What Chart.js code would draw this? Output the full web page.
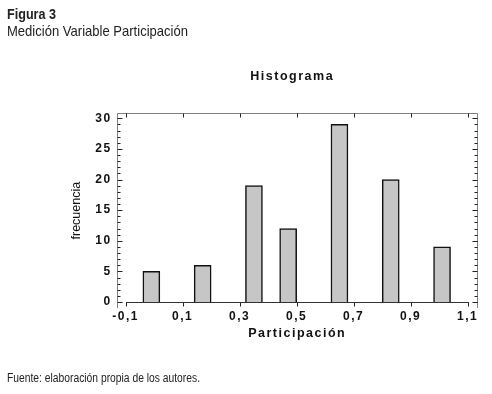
<!DOCTYPE html>
<html>
<head>
<meta charset="utf-8">
<script src="https://cdn.jsdelivr.net/npm/chart.js@4/dist/chart.umd.min.js"></script>
<style>
  html, body { margin: 0; padding: 0; background: #fff; }
  #wrap { position: relative; width: 492px; height: 394px; overflow: hidden; }
  canvas { position: absolute; left: 0; top: 0; }
  .txt { position: absolute; font-family: "Liberation Sans", Arial, sans-serif; color: #222; white-space: nowrap; transform-origin: 0 0; line-height: 1; }
</style>
</head>
<body>
<div id="wrap">
  <canvas id="c" width="492" height="394"></canvas>
  <div class="txt" data-w="49" style="left:7px; top:6px; font-size:15px; font-weight:bold;">Figura 3</div>
  <div class="txt" data-w="181" style="left:7px; top:24px; font-size:14.5px;">Medición Variable Participación</div>
  <div class="txt" data-w="193" style="left:7px; top:372px; font-size:12px;">Fuente: elaboración propia de los autores.</div>
</div>
<script>
// ---- data ----
const binCenters = [-0.01, 0.17, 0.35, 0.47, 0.65, 0.83, 1.01];
const frequencies = [5, 6, 19, 12, 29, 20, 9];
const xTickValues = [-0.1, 0.1, 0.3, 0.5, 0.7, 0.9, 1.1];
const xTickLabels = ['-0,1', '0,1', '0,3', '0,5', '0,7', '0,9', '1,1'];
const yTickValues = [0, 5, 10, 15, 20, 25, 30];
const yTickLabels = ['0', '5', '10', '15', '20', '25', '30'];

const X_MIN = -0.1316, X_MAX = 1.1351;
const Y_MIN = -0.98, Y_MAX = 30.82;

// condensed look for the header / footer texts
document.querySelectorAll('.txt[data-w]').forEach(el => {
  const w = el.getBoundingClientRect().width;
  el.style.transform = 'scaleX(' + (parseFloat(el.dataset.w) / w) + ')';
});

const spacingPlugin = {
  id: 'spacing',
  beforeUpdate(chart) { chart.ctx.letterSpacing = '1.5px'; },
  beforeDraw(chart) { chart.ctx.letterSpacing = '1.5px'; }
};

const framePlugin = {
  id: 'frame',
  afterDatasetsDraw(chart) {
    const { ctx, chartArea: a, scales: { x, y } } = chart;
    ctx.save();
    ctx.letterSpacing = '0px';
    ctx.strokeStyle = '#808080';
    ctx.lineWidth = 1;
    ctx.beginPath();
    const L = Math.round(a.left) + 0.5, T = Math.round(a.top) + 0.5, R = Math.round(a.right) - 0.5, B = Math.round(a.bottom);
    ctx.moveTo(L, B); ctx.lineTo(L, T); ctx.lineTo(R, T); ctx.lineTo(R, B);
    ctx.stroke();
    ctx.strokeStyle = '#222';
    ctx.beginPath();
    for (let v = 0; v <= 30; v++) {
      const py = Math.round(y.getPixelForValue(v)) + 0.5;
      const len = (v % 5 === 0) ? 5 : 3;
      ctx.moveTo(L, py); ctx.lineTo(L + len, py);
      ctx.moveTo(R, py); ctx.lineTo(R - len, py);
    }
    const y0 = Math.round(y.getPixelForValue(0)) + 0.5;
    xTickValues.forEach(v => {
      const px = Math.round(x.getPixelForValue(v)) + 0.5;
      ctx.moveTo(px, T); ctx.lineTo(px, T + 4);
      ctx.moveTo(px, y0); ctx.lineTo(px, y0 + 4);
    });
    ctx.stroke();
    ctx.strokeStyle = '#333';
    ctx.beginPath();
    ctx.moveTo(Math.round(x.getPixelForValue(-0.1)), y0);
    ctx.lineTo(Math.round(x.getPixelForValue(1.1)) + 1, y0);
    ctx.stroke();
    ctx.restore();
  }
};

const boldFont = '"Liberation Sans", Arial, sans-serif';

const chart = new Chart(document.getElementById('c'), {
  type: 'bar',
  data: {
    datasets: [{
      data: binCenters.map((c, i) => ({ x: c, y: frequencies[i] })),
      base: 0,
      backgroundColor: '#c6c6c6',
      borderColor: '#111',
      borderWidth: 1.5,
      barThickness: 17
    }]
  },
  options: {
    responsive: false,
    devicePixelRatio: 1,
    animation: false,
    layout: { padding: { left: 0, right: 14.3, top: 0, bottom: 0 } },
    plugins: {
      legend: { display: false },
      tooltip: { enabled: false },
      title: {
        display: true,
        fullSize: false,
        text: 'Histograma',
        color: '#111',
        font: { family: boldFont, size: 12.5, weight: 'bold', lineHeight: 1.2 },
        padding: { top: 69.5, bottom: 28.8 }
      }
    },
    scales: {
      x: {
        type: 'linear',
        min: X_MIN, max: X_MAX,
        offset: false,
        grid: { display: false, drawTicks: false, offset: false },
        border: { display: false },
        afterFit(s) { s.height = 86; },
        afterBuildTicks(s) { s.ticks = xTickValues.map(v => ({ value: v })); },
        ticks: {
          autoSkip: false, maxRotation: 0, padding: 1, color: '#111',
          font: { family: boldFont, size: 12, weight: 'bold' },
          callback: (v, i) => xTickLabels[i]
        },
        title: {
          display: true, text: 'Participación', color: '#111',
          font: { family: boldFont, size: 12.5, weight: 'bold', lineHeight: 1.2 },
          padding: { top: 0, bottom: 52.8 }
        }
      },
      y: {
        min: Y_MIN, max: Y_MAX,
        grid: { display: false, drawTicks: false },
        border: { display: false },
        afterFit(s) { s.width = 116.7; },
        afterBuildTicks(s) { s.ticks = yTickValues.map(v => ({ value: v })); },
        ticks: {
          autoSkip: false, padding: 5, color: '#111',
          font: { family: boldFont, size: 12, weight: 'bold' },
          callback: (v, i) => yTickLabels[i]
        },
        title: {
          display: true, text: 'frecuencia', color: '#111',
          font: { family: boldFont, size: 12.5, lineHeight: 1.2 },
          padding: { top: 68.8, bottom: 0 }
        }
      }
    }
  },
  plugins: [spacingPlugin, framePlugin]
});
const ys = chart.scales.y;
const origDrawTitle = ys.drawTitle;
ys.drawTitle = function () {
  this.ctx.save();
  this.ctx.letterSpacing = '0px';
  origDrawTitle.call(this);
  this.ctx.restore();
};
// the reference's title sits slightly left of the plot centre
const tb = chart.titleBlock;
if (tb) {
  const origTbDraw = tb.draw;
  tb.draw = function () {
    this.ctx.save();
    this.ctx.translate(-5, 0);
    origTbDraw.call(this);
    this.ctx.restore();
  };
}
chart.draw();
</script>
</body>
</html>
